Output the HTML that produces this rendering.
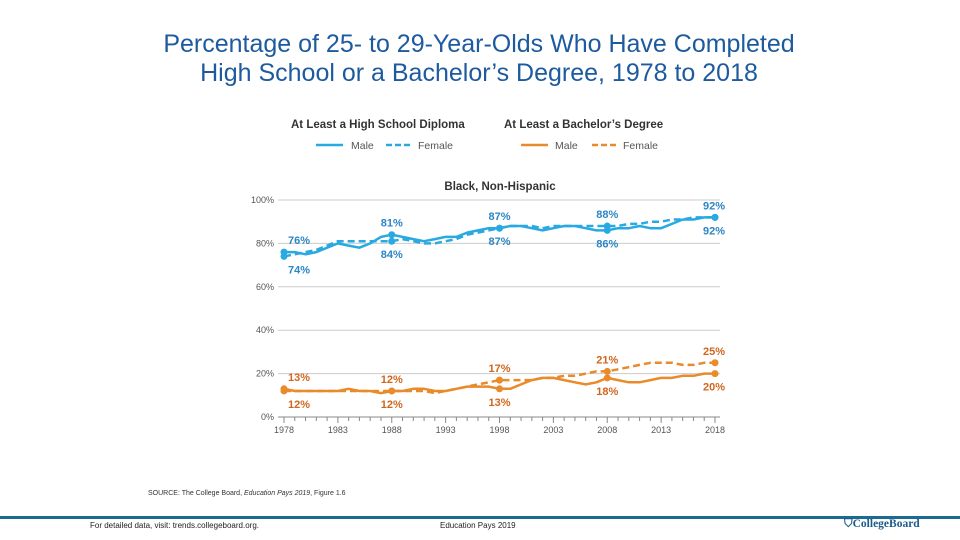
<!DOCTYPE html>
<html><head><meta charset="utf-8"><style>
body{margin:0;background:#fff;font-family:"Liberation Sans",Arial,sans-serif}
#wrap{position:relative;width:960px;height:540px;overflow:hidden}
.t{position:absolute;white-space:nowrap}
</style></head><body>
<div id="wrap">
<div class="t" style="left:0;width:958px;top:30px;text-align:center;font-size:25px;line-height:29px;color:#1d5a9e">Percentage of 25- to 29-Year-Olds Who Have Completed<br>High School or a Bachelor’s Degree, 1978 to 2018</div>
<svg id="ch" width="960" height="540" style="position:absolute;left:0;top:0"></svg>
<div class="t" style="left:148px;top:490px;font-size:7px;color:#333">SOURCE: The College Board, <i>Education Pays 2019</i>, Figure 1.6</div>
<div style="position:absolute;left:0;top:516px;width:960px;height:3px;background:#1b6a8f"></div>
<div class="t" style="left:90px;top:521px;font-size:8px;color:#222">For detailed data, visit: trends.collegeboard.org.</div>
<div class="t" style="left:440px;top:521px;font-size:8px;color:#222">Education Pays 2019</div>
<div class="t" style="left:844px;top:518px;font-size:11.5px;font-weight:bold;color:#1b5a8a;font-family:'Liberation Serif',serif">⛉CollegeBoard</div>
</div>
<script>
const years=[];for(let y=1978;y<=2018;y++)years.push(y);
const hsMale=[76,76,75,76,78,80,79,78,80,83,84,83,82,81,82,83,83,85,86,87,87,88,88,87,86,87,88,88,87,86,86,87,87,88,87,87,89,91,91,92,92];
const hsFemale=[74,75,76,77,79,81,81,81,81,81,81,82,81,80,80,81,82,84,85,86,87,88,88,88,87,88,88,88,88,88,88,88,89,89,90,90,91,91,92,92,92];
const baMale=[13,12,12,12,12,12,13,12,12,11,12,12,13,13,12,12,13,14,14,14,13,13,15,17,18,18,17,16,15,16,18,17,16,16,17,18,18,19,19,20,20];
const baFemale=[12,12,12,12,12,12,12,12,12,12,12,12,12,12,11,12,13,14,15,16,17,17,17,17,18,18,19,19,20,21,21,22,23,24,25,25,25,24,24,25,25];
const yTicks=[0,20,40,60,80,100];
const xTickYears=[1978,1983,1988,1993,1998,2003,2008,2013,2018];
const labelYears=[1978,1988,1998,2008,2018];
const hsAbove=['m','f','m','f','m'];
const baAbove=['m','f','f','f','f'];
const NS="http://www.w3.org/2000/svg",svg=document.getElementById('ch');
const X=y=>284+(y-1978)*(431/40), Y=v=>417-v*2.17;
function el(t,a,p){const e=document.createElementNS(NS,t);for(const k in a)e.setAttribute(k,a[k]);(p||svg).appendChild(e);return e;}
function txt(s,x,y,a){const e=el('text',Object.assign({x:x,y:y,'font-family':'Liberation Sans, sans-serif'},a));e.textContent=s;return e;}
txt('At Least a High School Diploma',291,128,{'font-size':11.5,'font-weight':'bold',fill:'#333'});
txt('At Least a Bachelor’s Degree',504,128,{'font-size':11.5,'font-weight':'bold',fill:'#333'});
el('line',{x1:316,y1:145,x2:343,y2:145,stroke:'#29a9e1','stroke-width':2.5});txt('Male',351,149,{'font-size':10.5,fill:'#555'});
el('line',{x1:386,y1:145,x2:412,y2:145,stroke:'#29a9e1','stroke-width':2.5,'stroke-dasharray':'6,3'});txt('Female',418,149,{'font-size':10.5,fill:'#555'});
el('line',{x1:521,y1:145,x2:548,y2:145,stroke:'#e98a2b','stroke-width':2.5});txt('Male',555,149,{'font-size':10.5,fill:'#555'});
el('line',{x1:592,y1:145,x2:617,y2:145,stroke:'#e98a2b','stroke-width':2.5,'stroke-dasharray':'6,3'});txt('Female',623,149,{'font-size':10.5,fill:'#555'});
txt('Black, Non-Hispanic',500,190,{'font-size':11.5,'font-weight':'bold',fill:'#333','text-anchor':'middle'});
yTicks.forEach(v=>{const l=el('line',{x1:278,y1:Y(v),x2:720,y2:Y(v),stroke:v==0?'#888':'#ccc','stroke-width':1});

const t=txt(v+'%',274,Y(v)+3,{'font-size':9,fill:'#555','text-anchor':'end'});});
years.forEach(y=>{el('line',{x1:X(y),y1:417,x2:X(y),y2:xTickYears.includes(y)?423:421,stroke:'#888','stroke-width':1});});
xTickYears.forEach(y=>{const t=txt(y,X(y),433,{'font-size':9,fill:'#555','text-anchor':'middle'});});
function series(data,color,dash,name){const d=data.map((v,i)=>(i?'L':'M')+X(years[i]).toFixed(1)+','+Y(v).toFixed(1)).join('');
const p=el('path',{d:d,fill:'none',stroke:color,'stroke-width':2.5,'stroke-linejoin':'round'});if(dash)p.setAttribute('stroke-dasharray','7,4');

labelYears.forEach(y=>{const c=el('circle',{cx:X(y),cy:Y(data[y-1978]),r:3.5,fill:color});});}
series(hsFemale,'#29a9e1',true,'hs-female-line');series(hsMale,'#29a9e1',false,'hs-male-line');
series(baFemale,'#e98a2b',true,'ba-female-line');series(baMale,'#e98a2b',false,'ba-male-line');
function lab(m,f,above,color){labelYears.forEach((y,i)=>{const i0=y-1978;const a=above[i]=='m'?m[i0]:f[i0];const b=above[i]=='m'?f[i0]:m[i0];
const hi=Math.max(m[i0],f[i0]),lo=Math.min(m[i0],f[i0]);const x=X(y)+(y==1978?15:y==2018?-1:0);
const t1=txt(a+'%',x,Y(hi)-8,{'font-size':11,'font-weight':'bold',fill:color,'text-anchor':'middle'});
const t2=txt(b+'%',x,Y(lo)+17,{'font-size':11,'font-weight':'bold',fill:color,'text-anchor':'middle'});});}
lab(hsMale,hsFemale,hsAbove,'#2b86c4');
lab(baMale,baFemale,baAbove,'#d0661e');
</script>
</body></html>
